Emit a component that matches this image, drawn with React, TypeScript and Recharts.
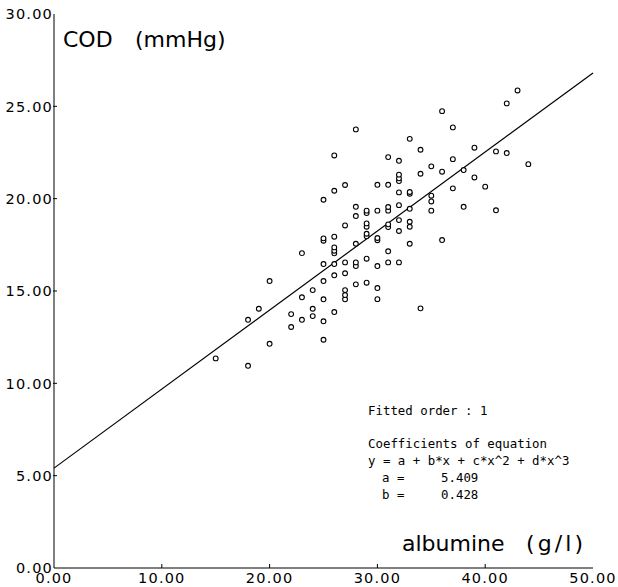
import React from 'react';
import { ScatterChart, Scatter, XAxis, YAxis, ReferenceLine } from 'recharts';

// albumine (g/l) values
const albumine: number[] = [
  15,
  18, 18,
  19,
  20, 20,
  22, 22,
  23, 23, 23,
  24, 24, 24,
  25, 25, 25, 25, 25, 25, 25, 25,
  26, 26, 26, 26, 26, 26, 26, 26, 26,
  27, 27, 27, 27, 27, 27, 27,
  28, 28, 28, 28, 28, 28, 28,
  29, 29, 29, 29, 29, 29, 29, 29,
  30, 30, 30, 30, 30, 30, 30,
  31, 31, 31, 31, 31, 31, 31, 31,
  32, 32, 32, 32, 32, 32, 32, 32, 32,
  33, 33, 33, 33, 33, 33, 33,
  34, 34, 34,
  35, 35, 35, 35,
  36, 36, 36,
  37, 37, 37,
  38, 38,
  39, 39,
  40,
  41, 41,
  42, 42,
  43,
  44,
];

// COD (mmHg) values
const cod: number[] = [
  11.35,
  10.95, 13.44,
  14.04,
  12.14, 15.54,
  13.05, 13.75,
  13.44, 14.66, 17.05,
  13.64, 14.04, 15.05,
  12.36, 13.36, 14.55, 15.54, 16.46, 17.72, 17.85, 19.94,
  13.86, 15.85, 16.46, 17.04, 17.18, 17.36, 17.94, 20.43, 22.34,
  14.55, 14.78, 15.05, 15.96, 16.55, 18.55, 20.74,
  15.36, 16.35, 16.55, 17.56, 19.06, 19.56, 23.75,
  15.45, 16.75, 17.96, 18.1, 18.48, 18.66, 19.22, 19.35,
  14.56, 15.16, 16.35, 17.75, 17.87, 19.35, 20.75,
  16.55, 17.15, 18.46, 18.61, 19.35, 19.55, 20.75, 22.25,
  16.55, 18.25, 18.84, 19.65, 20.34, 20.95, 21.1, 21.3, 22.05,
  17.56, 18.48, 18.75, 19.45, 20.27, 20.36, 23.24,
  14.06, 21.35, 22.65,
  19.35, 19.85, 20.16, 21.75,
  17.76, 21.46, 24.74,
  20.56, 22.14, 23.86,
  19.56, 21.55,
  21.15, 22.76,
  20.65,
  19.37, 22.56,
  22.47, 25.16,
  25.86,
  21.87,
];

const xTicks: number[] = [0, 10, 20, 30, 40, 50];
const yTicks: number[] = [0, 5, 10, 15, 20, 25, 30];
const xDomain: [number, number] = [0, 50];
const yDomain: [number, number] = [0, 30];

const coefA = 5.409;
const coefB = 0.428;

const points = albumine.map((x, i) => ({ x, y: cod[i] }));
const fitSegment = [
  { x: xDomain[0], y: coefA + coefB * xDomain[0] },
  { x: xDomain[1], y: coefA + coefB * xDomain[1] },
];

const tickFont = {
  fontFamily: '"DejaVu Sans", sans-serif',
  fontSize: 14.5,
  letterSpacing: 1.2,
  fill: '#000',
};

const YTick = (props: any) => {
  const { x, y, payload, index } = props;
  const v = Number(payload.value);
  const showLine = v !== yDomain[0] && v !== yDomain[1];
  return (
    <g>
      {showLine && <line x1={x + 1} x2={x + 5} y1={y} y2={y} stroke="#000" strokeWidth={1} />}
      <text x={x + 1} y={y} dy="0.37em" textAnchor="end" {...tickFont}>
        {v.toFixed(2)}
      </text>
    </g>
  );
};

const XTick = (props: any) => {
  const { x, y, payload } = props;
  const v = Number(payload.value);
  const showLine = v !== xDomain[0] && v !== xDomain[1];
  return (
    <g>
      {showLine && <line x1={x} x2={x} y1={y - 4} y2={y - 8} stroke="#000" strokeWidth={1} />}
      <text x={x} y={y} dy={11} textAnchor="middle" {...tickFont}>
        {v.toFixed(2)}
      </text>
    </g>
  );
};

const Dot = (props: any) => {
  const { cx, cy } = props;
  if (cx == null || cy == null) return null;
  return <circle cx={cx} cy={cy} r={2.4} fill="#fff" stroke="#000" strokeWidth={1.1} />;
};

const mono = {
  fontFamily: '"DejaVu Sans Mono", monospace',
  fontSize: 12.4,
  fill: '#000',
};
const title = {
  fontFamily: '"DejaVu Sans", sans-serif',
  fontSize: 22,
  fill: '#000',
};

export default function App() {
  return (
    <div style={{ position: 'absolute', left: 0, top: 0, width: 618, height: 587, background: '#fff' }}>
      <ScatterChart
        width={618}
        height={587}
        margin={{ top: 14, right: 25, bottom: 0, left: 0 }}
      >
        <XAxis
          type="number"
          dataKey="x"
          domain={xDomain}
          ticks={xTicks}
          interval={0}
          tickSize={0}
          tickMargin={4}
          tickLine={false}
          height={19}
          axisLine={{ stroke: '#000', strokeWidth: 1 }}
          tick={<XTick />}
          allowDataOverflow
        />
        <XAxis
          xAxisId="top"
          orientation="top"
          type="number"
          domain={xDomain}
          tick={false}
          tickLine={false}
          height={0}
          axisLine={{ stroke: '#000', strokeWidth: 1 }}
        />
        <YAxis
          type="number"
          dataKey="y"
          domain={yDomain}
          ticks={yTicks}
          interval={0}
          tickSize={0}
          tickMargin={2}
          tickLine={false}
          width={54}
          axisLine={{ stroke: '#000', strokeWidth: 1 }}
          tick={<YTick />}
          allowDataOverflow
        />
        <YAxis
          yAxisId="right"
          orientation="right"
          type="number"
          domain={yDomain}
          tick={false}
          tickLine={false}
          width={0}
          axisLine={{ stroke: '#000', strokeWidth: 1 }}
        />
        <ReferenceLine segment={fitSegment} stroke="#000" strokeWidth={1.2} ifOverflow="visible" />
        <Scatter data={points} shape={<Dot />} isAnimationActive={false} />
      </ScatterChart>
      <svg
        width={618}
        height={587}
        style={{ position: 'absolute', left: 0, top: 0, pointerEvents: 'none' }}
      >
        <text x={63} y={47} {...title}>COD</text>
        <text x={135} y={47} {...title}>(mmHg)</text>
        <text x={402} y={551} {...title}>albumine</text>
        <text x={526} y={551} textLength={57} lengthAdjust="spacing" {...title}>(g/l)</text>
        <text x={368} y={415} {...mono}>Fitted order : 1</text>
        <text x={368} y={448} {...mono}>Coefficients of equation</text>
        <text x={368} y={465} {...mono}>y = a + b*x + c*x^2 + d*x^3</text>
        <text x={382} y={482} {...mono}>a =</text>
        <text x={441} y={482} {...mono}>{coefA.toFixed(3)}</text>
        <text x={382} y={499} {...mono}>b =</text>
        <text x={441} y={499} {...mono}>{coefB.toFixed(3)}</text>
      </svg>
    </div>
  );
}
